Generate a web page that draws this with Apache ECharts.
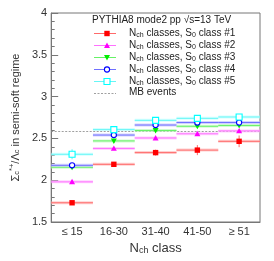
<!DOCTYPE html>
<html><head><meta charset="utf-8">
<script src="https://cdn.jsdelivr.net/npm/echarts@6/dist/echarts.min.js"></script>
<style>html,body{margin:0;padding:0;background:#fff}#c{width:274px;height:261px}</style>
</head><body><div id="c"></div>
<script>
const categories = ['\u2264 15', '16-30', '31-40', '41-50', '\u2265 51'];
const s0class1 = [1.73, 2.19, 2.33, 2.36, 2.465];
const s0class2 = [1.98, 2.38, 2.505, 2.555, 2.59];
const s0class3 = [2.155, 2.47, 2.595, 2.645, 2.655];
const s0class4 = [2.178, 2.54, 2.66, 2.69, 2.69];
const s0class5 = [2.31, 2.605, 2.716, 2.74, 2.756];
const err1 = [0.02, 0.02, 0.035, 0.06, 0.07];
const err2 = [0.02, 0.02, 0.02, 0.02, 0.02];
const err3 = [0.025, 0.025, 0.02, 0.02, 0.02];
const err4 = [0.02, 0.02, 0.02, 0.02, 0.02];
const err5 = [0.06, 0.025, 0.02, 0.02, 0.02];
const mbValue = [2.59];
const yTicks = [1.5, 2, 2.5, 3, 3.5, 4];
const legendTitle = 'PYTHIA8 mode2 pp \u221As=13 TeV';
const seriesNames = ['S0 class #1', 'S0 class #2', 'S0 class #3', 'S0 class #4', 'S0 class #5'];
const mbName = 'MB events';

const styles = [
  {color:'#ff0000', line:'#ff6a6a', band:'#ffb0b0', marker:'square'},
  {color:'#ff00ff', line:'#ff70ff', band:'#ffb8ff', marker:'triUp'},
  {color:'#00ee00', line:'#66f266', band:'#b8f8b8', marker:'triDown'},
  {color:'#0000ff', line:'#7070ff', band:'#b8b8ff', marker:'circle'},
  {color:'#00ffff', line:'#66f6f6', band:'#b8ffff', marker:'openSquare'}
];
const values = [s0class1, s0class2, s0class3, s0class4, s0class5];
const errs = [err1, err2, err3, err4, err5];

function marker(type, x, y, color) {
  const s = 2.7;
  if (type === 'square') return {type:'rect', shape:{x:x-s, y:y-s, width:2*s, height:2*s}, style:{fill:color}};
  if (type === 'openSquare') return {type:'rect', shape:{x:x-3, y:y-3, width:6, height:6}, style:{fill:'#fff', stroke:color, lineWidth:1.1}};
  if (type === 'circle') return {type:'circle', shape:{cx:x, cy:y, r:2.6}, style:{fill:'#fff', stroke:color, lineWidth:1.1}};
  if (type === 'triUp') return {type:'polygon', shape:{points:[[x-3,y+2.4],[x+3,y+2.4],[x,y-3]]}, style:{fill:color}};
  return {type:'polygon', shape:{points:[[x-3,y-2.4],[x+3,y-2.4],[x,y+3]]}, style:{fill:color}};
}

const chart = echarts.init(document.getElementById('c'), null, {renderer:'canvas'});
const FONT = 'Liberation Sans, Arial, sans-serif';

const series = values.map((vals, k) => ({
  type:'custom',
  name: seriesNames[k],
  clip: true,
  z: 10 + k,
  data: vals.map((v, i) => [i, v, errs[k][i]]),
  encode:{x:0, y:1},
  renderItem: function(params, api) {
    const i = api.value(0), v = api.value(1), e = api.value(2);
    const p = api.coord([i, v]);
    const w = api.size([1, 0])[0];
    const yt = api.coord([i, v + e])[1], yb = api.coord([i, v - e])[1];
    const st = styles[k];
    return {type:'group', children:[
      {type:'rect', shape:{x:p[0]-w/2, y:p[1]-1.5, width:w, height:3}, style:{fill:st.band, opacity:0.6}},
      {type:'line', shape:{x1:p[0]-w/2, y1:p[1], x2:p[0]+w/2, y2:p[1]}, style:{stroke:st.line, lineWidth:1}},
      {type:'line', shape:{x1:p[0], y1:yt, x2:p[0], y2:yb}, style:{stroke:st.line, lineWidth:1}},
      marker(st.marker, p[0], p[1], st.color)
    ]};
  }
}));

series.push({
  type:'line', name: mbName, data: [], silent:true,
  markLine:{silent:true, symbol:'none', label:{show:false},
    lineStyle:{color:'#888', type:[2,1.5], width:0.8},
    data:[{yAxis: mbValue[0]}]}
});

// legend drawn with graphic
const lg = [];
const lx0 = 94, lx1 = 116, mx = 107, tx = 129;
lg.push({type:'text', left:92, top:15, style:{text:legendTitle, font:'10px ' + FONT, fill:'#222'}});
const rowY = [33.5, 45.5, 57.5, 69.5, 81.5, 93.5];
seriesNames.forEach((n, k) => {
  const y = rowY[k];
  const st = styles[k];
  lg.push({type:'line', shape:{x1:lx0, y1:y, x2:lx1, y2:y}, style:{stroke:st.line, lineWidth:1}});
  const m = marker(st.marker, mx, y, st.color);
  lg.push(m);
  const num = n.split('class ')[1];
  lg.push({type:'text', x:tx, y:y-7, style:{
    text:'{n|N}{s|ch}{n| classes, S}{s|0}{n| class ' + num + '}',
    rich:{n:{fontSize:10, fontFamily:FONT, fill:'#222', verticalAlign:'bottom', lineHeight:12}, s:{fontSize:7, fontFamily:FONT, fill:'#222', verticalAlign:'bottom', lineHeight:9}}
  }});
});
lg.push({type:'line', shape:{x1:lx0, y1:rowY[5], x2:lx1, y2:rowY[5]}, style:{stroke:'#888', lineWidth:0.8, lineDash:[2,1.5]}});
lg.push({type:'text', x:tx, y:rowY[5]-6, style:{text:mbName, font:'10px ' + FONT, fill:'#222'}});

chart.setOption({
  animation:false,
  backgroundColor:'#fff',
  grid:{left:41, right:14, top:13, bottom:39, show:true, borderColor:'#777', borderWidth:1, backgroundColor:'transparent'},
  xAxis:{
    type:'category', data:categories, boundaryGap:true,
    axisLine:{lineStyle:{color:'#777'}},
    axisTick:{inside:true, length:5, interval:0, lineStyle:{color:'#777'}},
    axisLabel:{color:'#333', fontSize:11, fontFamily:FONT, margin:4, interval:0},
    name:'{n|N}{s|ch}{n| class}', nameLocation:'middle', nameGap:17,
    nameTextStyle:{rich:{n:{fontSize:13, fontFamily:FONT, color:'#333', verticalAlign:'bottom', lineHeight:15}, s:{fontSize:9, fontFamily:FONT, color:'#333', verticalAlign:'bottom', lineHeight:11}}}
  },
  yAxis:{
    type:'value', min:yTicks[0], max:yTicks[yTicks.length-1], interval:0.5,
    axisLine:{show:true, lineStyle:{color:'#777'}},
    axisTick:{show:true, inside:true, length:7, lineStyle:{color:'#777'}},
    minorTick:{show:true, splitNumber:5, length:3.5, lineStyle:{color:'#777'}},
    splitLine:{show:false},
    axisLabel:{color:'#333', fontSize:11, fontFamily:FONT, margin:4},
    name:'{n|\u03A3}{s|c}{p|*+}{n|/\u039B}{s|c}{n| in semi-soft regime}',
    nameLocation:'middle', nameGap:28, nameRotate:90,
    nameTextStyle:{rich:{
      n:{fontSize:11, fontFamily:FONT, color:'#333', verticalAlign:'bottom', lineHeight:13},
      s:{fontSize:7.5, fontFamily:FONT, color:'#333', verticalAlign:'bottom', lineHeight:9},
      p:{fontSize:7.5, fontFamily:FONT, color:'#333', verticalAlign:'top', lineHeight:13}
    }}
  },
  graphic: lg,
  series: series
});
</script></body></html>
